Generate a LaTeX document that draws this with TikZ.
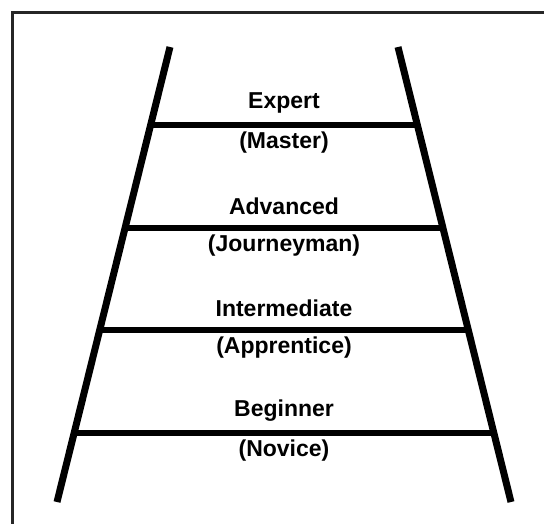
\documentclass[tikz,border=0pt]{standalone}
\usepackage{fontspec}
\setsansfont{Liberation Sans}
\usetikzlibrary{calc}
\begin{document}
\begin{tikzpicture}[x=1pt, y=-1pt, font=\sffamily\bfseries\fontsize{23}{26}\selectfont,
      frm/.style={draw=black!85, line width=3pt},
      rail/.style={line width=7pt},
      rung/.style={line width=6.5pt},
      lvl/.style={inner sep=0pt, anchor=center},
      sub/.style={lvl}]
    \useasboundingbox (0,0) rectangle (544,524);
    \fill[white] (0,0) rectangle (544,524);
    \draw[frm] (12,524) -- (12,13) -- (544,13);
    % rails
    \coordinate (lt) at (170,47);
    \coordinate (lb) at (57,502);
    \coordinate (rt) at (398,47);
    \coordinate (rb) at (511,502);
    \draw[rail] (lt) -- (lb);
    \draw[rail] (rt) -- (rb);
    % rungs
    \draw[rung] ($(lt)!0.1714!(lb)$) -- ($(rt)!0.1714!(rb)$);
    \draw[rung] ($(lt)!0.3978!(lb)$) -- ($(rt)!0.3978!(rb)$);
    \draw[rung] ($(lt)!0.6220!(lb)$) -- ($(rt)!0.6220!(rb)$);
    \draw[rung] ($(lt)!0.8484!(lb)$) -- ($(rt)!0.8484!(rb)$);
    % labels
    \node[lvl] (exp) at (284,103) {Expert};
    \node[sub] (mas) at (284,143) {(Master)};
    \node[lvl] (adv) at (284,206) {Advanced};
    \node[sub] (jou) at (284,246) {(Journeyman)};
    \node[lvl] (int) at (284,308) {Intermediate};
    \node[sub] (app) at (284,348) {(Apprentice)};
    \node[lvl] (beg) at (284,411) {Beginner};
    \node[sub] (nov) at (284,451) {(Novice)};
  \end{tikzpicture}
\end{document}
